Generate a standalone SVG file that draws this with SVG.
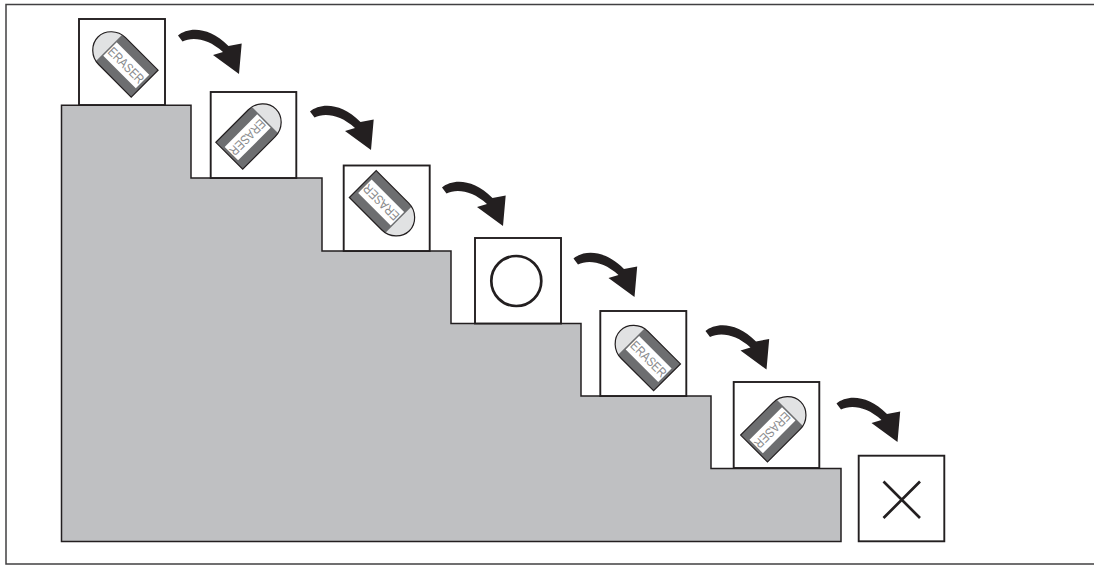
<svg xmlns="http://www.w3.org/2000/svg" xmlns:xlink="http://www.w3.org/1999/xlink" width="1094" height="565" viewBox="0 0 1094 565">
<style>
.box{fill:#fff;stroke:#231f20;stroke-width:1.9}
.mark{fill:none;stroke:#231f20;stroke-width:2.7}
.lbl{font-family:"Liberation Sans",Arial,sans-serif;font-size:13px;fill:#8a8b8d;text-anchor:middle}
</style>
<defs>
<g id="eraser">
<path d="M-13 -19H33V19H-13C-24 19 -33 10 -33 0C-33 -10 -24 -19 -13 -19Z" fill="#6d6e70"/>
<path d="M-17.5 -18.7V18.7C-26 17 -33 9 -33 0C-33 -9 -26 -17 -17.5 -18.7Z" fill="#e1e2e3"/>
<rect x="-16" y="-9.5" width="46" height="19" fill="#fff"/>
<path d="M-13 -19H33V19H-13C-24 19 -33 10 -33 0C-33 -10 -24 -19 -13 -19Z" fill="none" stroke="#231f20" stroke-width="1.2"/>
</g>
<path id="arrow" d="M178 35.5C188 27 209 26 228.5 46L241.7 43.5L239 74L213 55L223 52C208 38 192 36.5 182.5 41.5Z" fill="#231f20"/>
</defs>
<rect width="1094" height="565" fill="#fff"/>
<path id="frame" d="M1094 4.5H6V564H1094" fill="none" stroke="#414042" stroke-width="1.5"/>
<path id="stairs" d="M61.5 105.3H191V178H322V251H451V323.5H581V396H711V468.5H841V541.5H61.5Z" fill="#bfc0c2" stroke="#231f20" stroke-width="1.5"/>
<g id="connectors">
<use href="#arrow"/>
<use href="#arrow" x="132" y="76"/>
<use href="#arrow" x="264" y="152"/>
<use href="#arrow" x="395.5" y="223"/>
<use href="#arrow" x="527.5" y="295.5"/>
<use href="#arrow" x="658.5" y="368"/>
</g>
<g id="node1"><rect class="box" x="79" y="19" width="86" height="86"/>
<g transform="translate(121.3 60.3) rotate(45)"><use href="#eraser"/><text class="lbl" x="7" y="4.6" textLength="45" lengthAdjust="spacingAndGlyphs">ERASER</text></g></g>
<g id="node2"><rect class="box" x="210.7" y="92" width="85.6" height="86"/>
<g transform="translate(252.6 132.4) rotate(135)"><use href="#eraser"/><text class="lbl" x="7" y="4.6" textLength="45" lengthAdjust="spacingAndGlyphs">ERASER</text></g></g>
<g id="node3"><rect class="box" x="343.7" y="165.5" width="86" height="85.5"/>
<g transform="translate(386.1 207.4) rotate(225)"><use href="#eraser"/><text class="lbl" x="7" y="4.6" textLength="45" lengthAdjust="spacingAndGlyphs">ERASER</text></g></g>
<g id="node4"><rect class="box" x="475" y="238" width="86" height="85.5"/>
<circle class="mark" cx="516.3" cy="281" r="25"/></g>
<g id="node5"><rect class="box" x="600.3" y="311" width="86" height="85"/>
<g transform="translate(643.7 354) rotate(45)"><use href="#eraser"/><text class="lbl" x="7" y="4.6" textLength="45" lengthAdjust="spacingAndGlyphs">ERASER</text></g></g>
<g id="node6"><rect class="box" x="733.7" y="382" width="85.6" height="86"/>
<g transform="translate(777.4 425.2) rotate(135)"><use href="#eraser"/><text class="lbl" x="7" y="4.6" textLength="45" lengthAdjust="spacingAndGlyphs">ERASER</text></g></g>
<g id="node7"><rect class="box" x="858.7" y="455.7" width="85.6" height="85.6"/>
<path class="mark" d="M883.5 481.5L920 518M920 481.5L883.5 518"/></g>
</svg>
